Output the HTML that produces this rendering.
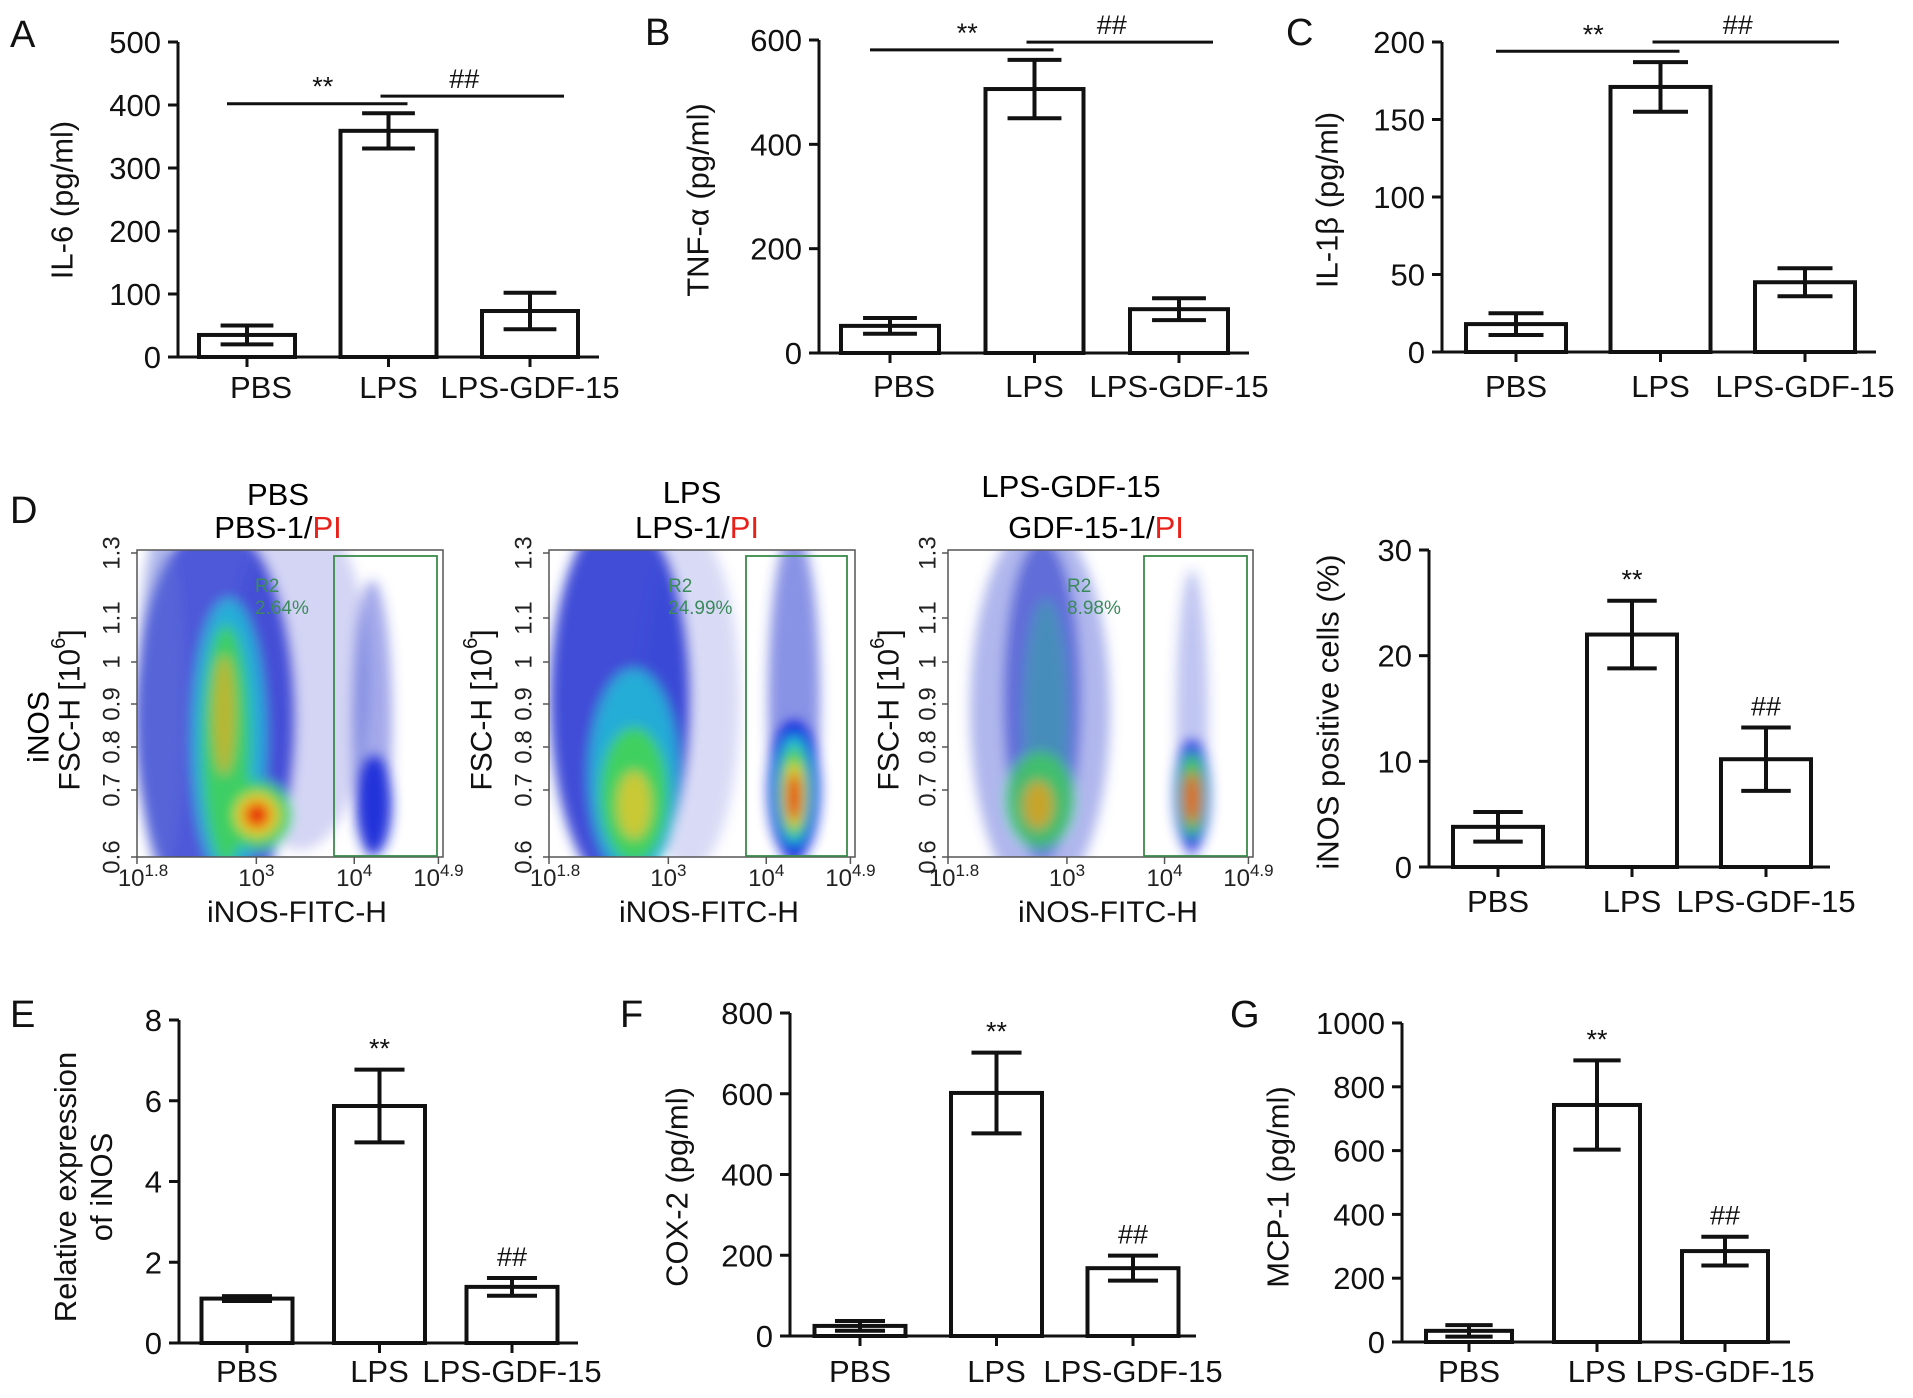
<!DOCTYPE html>
<html><head><meta charset="utf-8"><style>
html,body{margin:0;padding:0;background:#fff;}
svg{display:block;font-family:"Liberation Sans",Arial,sans-serif;}
</style></head><body>
<svg id="fig" width="1913" height="1398" viewBox="0 0 1913 1398" xmlns="http://www.w3.org/2000/svg">
<defs>
<filter id="blur" x="-20%" y="-20%" width="140%" height="140%"><feGaussianBlur stdDeviation="6"/></filter>
<clipPath id="clip1"><rect x="137" y="550" width="306" height="307"/></clipPath>
<clipPath id="clip2"><rect x="549" y="550" width="306" height="307"/></clipPath>
<clipPath id="clip3"><rect x="948" y="550" width="305" height="307"/></clipPath>
</defs>
<g font-size="38" fill="#111">
<text x="10" y="47">A</text>
<text x="645" y="45">B</text>
<text x="1286" y="45">C</text>
<text x="10" y="523">D</text>
<text x="10" y="1027">E</text>
<text x="620" y="1027">F</text>
<text x="1230" y="1027">G</text>
</g>

<!-- Flow plot 1 -->
<g>
<text x="278" y="505" font-size="31" text-anchor="middle">PBS</text>
<text x="278" y="538" font-size="31" text-anchor="middle">PBS-1/<tspan fill="#e8201a">PI</tspan></text>
<g clip-path="url(#clip1)" filter="url(#blur)">
<ellipse cx="300" cy="680" rx="70" ry="170" fill="#8088e0" opacity="0.35"/>
<ellipse cx="215" cy="720" rx="80" ry="200" fill="#2030d0" opacity="0.8"/>
<ellipse cx="160" cy="700" rx="22" ry="170" fill="#6070d8" opacity="0.5"/>
<ellipse cx="229" cy="740" rx="36" ry="140" fill="#20b8d8" opacity="0.9"/>
<ellipse cx="226" cy="745" rx="24" ry="120" fill="#40d060" opacity="0.95"/>
<ellipse cx="224" cy="715" rx="11" ry="60" fill="#d8b020" opacity="0.8"/>
<ellipse cx="257" cy="815" rx="34" ry="34" fill="#40d060"/>
<ellipse cx="257" cy="815" rx="22" ry="22" fill="#e8d020"/>
<ellipse cx="257" cy="815" rx="13" ry="13" fill="#e83010"/>
<ellipse cx="372" cy="720" rx="20" ry="140" fill="#3040d0" opacity="0.45"/>
<ellipse cx="374" cy="805" rx="18" ry="50" fill="#1828d8" opacity="0.9"/>
</g>
<rect x="137" y="550" width="306" height="307" fill="none" stroke="#555" stroke-width="1.5"/>
<rect x="334" y="556" width="103" height="300" fill="none" stroke="#3a8a4a" stroke-width="1.8"/>
<text x="255" y="592" font-size="19" fill="#3a8a5a">R2</text>
<text x="255" y="614" font-size="19" fill="#3a8a5a">2.64%</text>
</g>

<!-- Flow plot 2 -->
<g>
<text x="692" y="503" font-size="31" text-anchor="middle">LPS</text>
<text x="697" y="538" font-size="31" text-anchor="middle">LPS-1/<tspan fill="#e8201a">PI</tspan></text>
<g clip-path="url(#clip2)" filter="url(#blur)">
<ellipse cx="690" cy="700" rx="50" ry="170" fill="#8088e0" opacity="0.3"/>
<ellipse cx="620" cy="700" rx="70" ry="190" fill="#2030d0" opacity="0.85"/>
<ellipse cx="634" cy="775" rx="44" ry="105" fill="#20b8d8" opacity="0.9"/>
<ellipse cx="634" cy="795" rx="34" ry="68" fill="#40d060"/>
<ellipse cx="634" cy="805" rx="17" ry="34" fill="#d8c830" opacity="0.9"/>
<ellipse cx="794" cy="700" rx="26" ry="170" fill="#2838d0" opacity="0.55"/>
<ellipse cx="794" cy="790" rx="26" ry="70" fill="#1828e0"/>
<ellipse cx="794" cy="790" rx="18" ry="55" fill="#20c0d0"/>
<ellipse cx="794" cy="792" rx="14" ry="45" fill="#50d050"/>
<ellipse cx="794" cy="795" rx="10" ry="33" fill="#e8d020"/>
<ellipse cx="794" cy="797" rx="7" ry="24" fill="#e83010"/>
</g>
<rect x="549" y="550" width="306" height="307" fill="none" stroke="#555" stroke-width="1.5"/>
<rect x="746" y="556" width="101" height="300" fill="none" stroke="#3a8a4a" stroke-width="1.8"/>
<text x="668" y="592" font-size="19" fill="#3a8a5a">R2</text>
<text x="668" y="614" font-size="19" fill="#3a8a5a">24.99%</text>
</g>

<!-- Flow plot 3 -->
<g>
<text x="1071" y="497" font-size="31" text-anchor="middle">LPS-GDF-15</text>
<text x="1096" y="538" font-size="31" text-anchor="middle">GDF-15-1/<tspan fill="#e8201a">PI</tspan></text>
<g clip-path="url(#clip3)" filter="url(#blur)">
<ellipse cx="1040" cy="710" rx="70" ry="190" fill="#5060d8" opacity="0.45"/>
<ellipse cx="1042" cy="700" rx="38" ry="160" fill="#2030c8" opacity="0.55"/>
<ellipse cx="1046" cy="720" rx="22" ry="120" fill="#30b0a0" opacity="0.5"/>
<ellipse cx="1040" cy="800" rx="34" ry="48" fill="#40c860" opacity="0.85"/>
<ellipse cx="1038" cy="805" rx="15" ry="24" fill="#e0a020" opacity="0.85"/>
<ellipse cx="1192" cy="720" rx="16" ry="150" fill="#3040d0" opacity="0.3"/>
<ellipse cx="1192" cy="795" rx="18" ry="55" fill="#1828e0" opacity="0.9"/>
<ellipse cx="1192" cy="795" rx="13" ry="42" fill="#40c860"/>
<ellipse cx="1192" cy="798" rx="8" ry="26" fill="#e06020"/>
</g>
<rect x="948" y="550" width="305" height="307" fill="none" stroke="#555" stroke-width="1.5"/>
<rect x="1144" y="556" width="103" height="300" fill="none" stroke="#3a8a4a" stroke-width="1.8"/>
<text x="1067" y="592" font-size="19" fill="#3a8a5a">R2</text>
<text x="1067" y="614" font-size="19" fill="#3a8a5a">8.98%</text>
</g>
<text transform="translate(39,727) rotate(-90)" font-size="30" text-anchor="middle" dominant-baseline="central">iNOS</text>
<g id="flowAxes"></g>
</svg>
<script>
const categories = ["PBS", "LPS", "LPS-GDF-15"];
const il6Means = [35, 359, 73];
const il6Errors = [15, 28, 29];
const il6Ticks = [0, 100, 200, 300, 400, 500];
const il6Brackets = [402, 414];
const tnfMeans = [52, 506, 84];
const tnfErrors = [15, 56, 21];
const tnfTicks = [0, 200, 400, 600];
const tnfBrackets = [581, 596];
const il1bMeans = [18, 171, 45];
const il1bErrors = [7, 16, 9];
const il1bTicks = [0, 50, 100, 150, 200];
const il1bBrackets = [194, 200];
const inosPctMeans = [3.8, 22, 10.2];
const inosPctErrors = [1.4, 3.2, 3];
const inosPctTicks = [0, 10, 20, 30];
const inosRelMeans = [1.1, 5.87, 1.39];
const inosRelErrors = [0.06, 0.9, 0.22];
const inosRelTicks = [0, 2, 4, 6, 8];
const cox2Means = [25, 602, 168];
const cox2Errors = [12, 100, 31];
const cox2Ticks = [0, 200, 400, 600, 800];
const mcp1Means = [35, 743, 285];
const mcp1Errors = [18, 140, 45];
const mcp1Ticks = [0, 200, 400, 600, 800, 1000];
const flowYTickLabels = ["0.6", "0.7", "0.8", "0.9", "1", "1.1", "1.3"];
const flowYTickPos = [857, 790, 747, 704, 662, 618, 553];
const flowXExp = ["1.8", "3", "4", "4.9"];

const NS = "http://www.w3.org/2000/svg";
const svg = document.getElementById("fig");
function mk(tag, attrs, parent) {
  const e = document.createElementNS(NS, tag);
  for (const k in attrs) e.setAttribute(k, attrs[k]);
  (parent || svg).appendChild(e);
  return e;
}

function drawBarChart(id, L, means, errs, ticks, brackets, marks) {
  const g = mk("g", {});
  
  
  const max = ticks[ticks.length - 1];
  const ys = v => L.y0 - (v / max) * (L.y0 - L.yTop);
  const xs = i => L.c0 + i * L.step;
  const ax = mk("line", {x1: L.ax, y1: L.yTop, x2: L.ax, y2: L.y0, stroke: "#111", "stroke-width": 3}, g);
  
  
  const xa = mk("line", {x1: L.ax, y1: L.y0, x2: L.xEnd, y2: L.y0, stroke: "#111", "stroke-width": 3}, g);
  
  
  ticks.forEach(t => {
    const y = ys(t);
    const tk = mk("line", {x1: L.ax - 10, y1: y, x2: L.ax, y2: y, stroke: "#111", "stroke-width": 3}, g);
    
    
    const tl = mk("text", {x: L.ax - 17, y: y + 11, "font-size": 31, "text-anchor": "end", fill: "#111"}, g);
    tl.textContent = String(t);
    
    
  });
  const tt = mk("text", {transform: "translate(" + L.tx + "," + L.ty + ") rotate(-90)", "font-size": 31, "text-anchor": "middle", "dominant-baseline": "central", fill: "#111"}, g);
  if (L.title2) {
    const a = mk("tspan", {x: 0, dy: "-0.58em"}, tt); a.textContent = L.title;
    const b = mk("tspan", {x: 0, dy: "1.16em"}, tt); b.textContent = L.title2;
  } else tt.textContent = L.title;
  
  
  categories.forEach((c, i) => {
    const x = xs(i);
    const bar = mk("rect", {x: x - L.bw / 2, y: ys(means[i]), width: L.bw, height: L.y0 - ys(means[i]), fill: "#fff", stroke: "#111", "stroke-width": 4}, g);
    
    
    const hi = ys(means[i] + errs[i]), lo = ys(means[i] - errs[i]);
    const cw = L.bw * 0.55;
    const eb = mk("path", {d: "M" + x + " " + hi + "V" + lo + "M" + (x - cw / 2) + " " + hi + "H" + (x + cw / 2) + "M" + (x - cw / 2) + " " + lo + "H" + (x + cw / 2), stroke: "#111", "stroke-width": 4, fill: "none"}, g);
    
    
    const xt = mk("line", {x1: x, y1: L.y0, x2: x, y2: L.y0 + 10, stroke: "#111", "stroke-width": 3}, g);
    
    
    const lab = mk("text", {x: x + (i === 0 ? (L.pdx || 0) : 0), y: L.ly, "font-size": 31, "text-anchor": "middle", fill: "#111"}, g);
    lab.textContent = c;
    
    
    if (marks && marks[i]) {
      const m = mk("text", {x: x, y: hi - 12, "font-size": 27, "text-anchor": "middle", fill: "#111"}, g);
      m.textContent = marks[i];
      
      
    }
  });
  if (brackets) {
    const y1 = ys(brackets[0]), y2 = ys(brackets[1]);
    const b1 = mk("line", {x1: xs(0) - 20, y1: y1, x2: xs(1) + 19, y2: y1, stroke: "#111", "stroke-width": 3}, g);
    
    
    const b2 = mk("line", {x1: xs(1) - 8, y1: y2, x2: xs(2) + 34, y2: y2, stroke: "#111", "stroke-width": 3}, g);
    
    
    const s1 = mk("text", {x: (xs(0) + xs(1)) / 2 + 5, y: y1 - 8, "font-size": 27, "text-anchor": "middle", fill: "#111"}, g);
    s1.textContent = "**";
    
    
    const s2 = mk("text", {x: (xs(1) + xs(2)) / 2 + 5, y: y2 - 8, "font-size": 27, "text-anchor": "middle", fill: "#111"}, g);
    s2.textContent = "##";
    
    
  }
}

drawBarChart("il6", {ax: 178, y0: 357, yTop: 42, xEnd: 599, c0: 247, step: 141.5, bw: 96, tx: 62, ty: 200, title: "IL-6 (pg/ml)", ly: 398, pdx: 14}, il6Means, il6Errors, il6Ticks, il6Brackets, null);
drawBarChart("tnf", {ax: 819, y0: 353, yTop: 40, xEnd: 1249, c0: 890, step: 144.5, bw: 98, tx: 698, ty: 200, title: "TNF-\u03b1 (pg/ml)", ly: 397, pdx: 14}, tnfMeans, tnfErrors, tnfTicks, tnfBrackets, null);
drawBarChart("il1b", {ax: 1442, y0: 352, yTop: 42, xEnd: 1876, c0: 1516, step: 144.5, bw: 100, tx: 1327, ty: 200, title: "IL-1\u03b2 (pg/ml)", ly: 397}, il1bMeans, il1bErrors, il1bTicks, il1bBrackets, null);
drawBarChart("inos-pct", {ax: 1429, y0: 867, yTop: 550, xEnd: 1830, c0: 1498, step: 134, bw: 90, tx: 1328, ty: 712, title: "iNOS positive cells (%)", ly: 912}, inosPctMeans, inosPctErrors, inosPctTicks, null, ["", "**", "##"]);
drawBarChart("inos-rel", {ax: 179, y0: 1343, yTop: 1020, xEnd: 578, c0: 247, step: 132.5, bw: 91, tx: 83, ty: 1187, title: "Relative expression", title2: "of iNOS", ly: 1382}, inosRelMeans, inosRelErrors, inosRelTicks, null, ["", "**", "##"]);
drawBarChart("cox2", {ax: 790, y0: 1336, yTop: 1013, xEnd: 1196, c0: 860, step: 136.5, bw: 91, tx: 677, ty: 1187, title: "COX-2 (pg/ml)", ly: 1382}, cox2Means, cox2Errors, cox2Ticks, null, ["", "**", "##"]);
drawBarChart("mcp1", {ax: 1402, y0: 1342, yTop: 1023, xEnd: 1790, c0: 1469, step: 128, bw: 86, tx: 1278, ty: 1187, title: "MCP-1 (pg/ml)", ly: 1382}, mcp1Means, mcp1Errors, mcp1Ticks, null, ["", "**", "##"]);

const fa = document.getElementById("flowAxes");
[{l: 137, w: 306, yt: 70, tl: 112}, {l: 549, w: 306, yt: 482, tl: 524}, {l: 948, w: 305, yt: 889, tl: 928}].forEach((p, k) => {
  flowYTickLabels.forEach((s, i) => {
    const y = flowYTickPos[i];
    const t = mk("line", {x1: p.l - 6, y1: y, x2: p.l, y2: y, stroke: "#555", "stroke-width": 1.5}, fa);
    
    
    const tx = mk("text", {transform: "translate(" + p.tl + "," + y + ") rotate(-90)", "font-size": 24, "text-anchor": "middle", "dominant-baseline": "central", fill: "#222"}, fa);
    tx.textContent = s;
    
    
  });
  const yt = mk("text", {transform: "translate(" + p.yt + ",710) rotate(-90)", "font-size": 30, "text-anchor": "middle", "dominant-baseline": "central", fill: "#111"}, fa);
  yt.textContent = "FSC-H [10";
  const sup = mk("tspan", {"font-size": 20, dy: -11}, yt); sup.textContent = "6";
  const cl = mk("tspan", {dy: 11}, yt); cl.textContent = "]";
  
  
  const fr = [0, 0.39, 0.71, 0.985];
  flowXExp.forEach((e, i) => {
    const x = p.l + fr[i] * p.w;
    const t = mk("line", {x1: x, y1: 857, x2: x, y2: 864, stroke: "#555", "stroke-width": 1.5}, fa);
    
    
    const tx = mk("text", {x: x + (i === 0 ? 6 : 0), y: 886, "font-size": 24, "text-anchor": "middle", fill: "#222"}, fa);
    tx.textContent = "10";
    const s2 = mk("tspan", {"font-size": 17, dy: -10}, tx); s2.textContent = e;
    
    
  });
  const xt = mk("text", {x: p.l + 160, y: 922, "font-size": 30, "text-anchor": "middle", fill: "#111"}, fa);
  xt.textContent = "iNOS-FITC-H";
  
  
});
</script>
</body></html>
